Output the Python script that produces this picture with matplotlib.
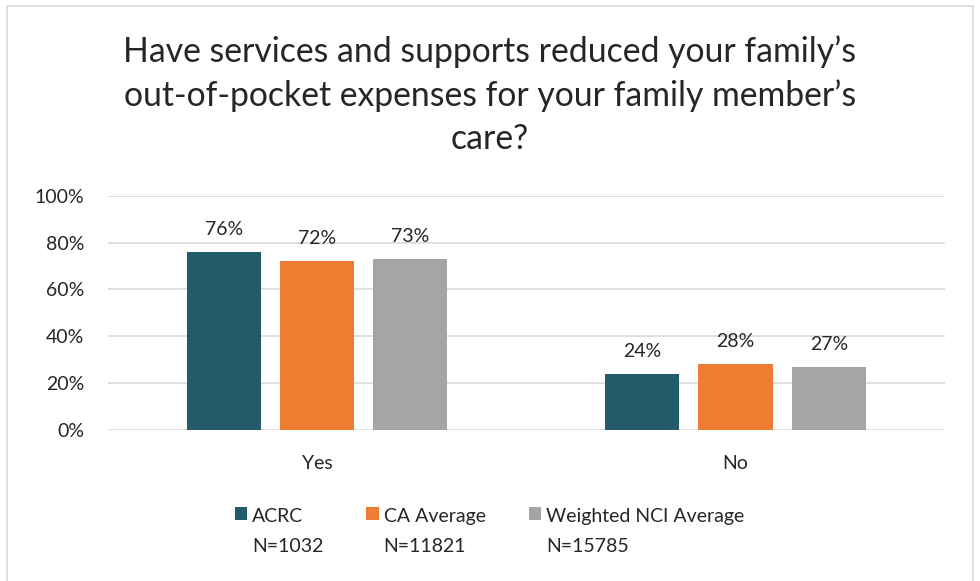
import numpy as np
import matplotlib
matplotlib.use("Agg")
import matplotlib.pyplot as plt
from matplotlib.patches import Rectangle

plt.rcParams['font.family'] = ['Lato', 'DejaVu Sans']

categories = ["Yes", "No"]
series_names = ["ACRC\nN=1032", "CA Average\nN=11821", "Weighted NCI Average\nN=15785"]
acrc = [76, 24]
ca_avg = [72, 28]
nci_avg = [73, 27]
colors = ['#235B6A', '#ED7D31', '#A5A5A5']
title = "Have services and supports reduced your family\u2019s\nout-of-pocket expenses for your family member\u2019s\ncare?"

FS = 14

fig = plt.figure(figsize=(9.8, 5.81), dpi=100)
ax = fig.add_axes([0.110, 0.260, 0.854, 0.403])

# outer chart border
fig.patches.append(Rectangle((7/980, -0.02), 966/980, 1 - 6/581 + 0.02,
                             transform=fig.transFigure, fill=False,
                             edgecolor='#D9D9D9', linewidth=1.2))

x = np.arange(len(categories))
W = 0.177
step = 0.223
for i, vals in enumerate([acrc, ca_avg, nci_avg]):
    bars = ax.bar(x + (i - 1) * step, vals, W, color=colors[i],
                  label=series_names[i], zorder=3)
    for b, v in zip(bars, vals):
        ax.text(b.get_x() + b.get_width() / 2, v + 6, f"{v}%",
                ha='center', va='bottom', fontsize=FS, color='#262626')

ax.set_xlim(-0.5, 1.5)
ax.set_ylim(0, 100)
ax.set_yticks([0, 20, 40, 60, 80, 100])
ax.set_yticklabels([f"{t}%" for t in [0, 20, 40, 60, 80, 100]])
ax.set_xticks(x)
ax.set_xticklabels(categories)
ax.tick_params(length=0, labelsize=FS, labelcolor='#262626')
ax.tick_params(axis='x', pad=18)
ax.tick_params(axis='y', pad=17)
ax.grid(axis='y', color='#D9D9D9', linewidth=1.2, zorder=0)
for s in ax.spines.values():
    s.set_visible(False)

fig.text(0.5, 0.836, title, ha='center', va='center', fontsize=24.3,
         color='#262626', linespacing=1.42)

leg = ax.legend(loc='upper center', bbox_to_anchor=(0.456, -0.26), ncol=3,
                frameon=False, fontsize=FS, handlelength=0.65, handleheight=0.65,
                handletextpad=0.25, columnspacing=2.2, labelspacing=0.3)
for t in leg.get_texts():
    t.set_color('#262626')
    t.set_linespacing(1.9)
for h in leg.legend_handles:
    h.set_y(h.get_y() + 13)

fig.savefig("out.png", dpi=100)
